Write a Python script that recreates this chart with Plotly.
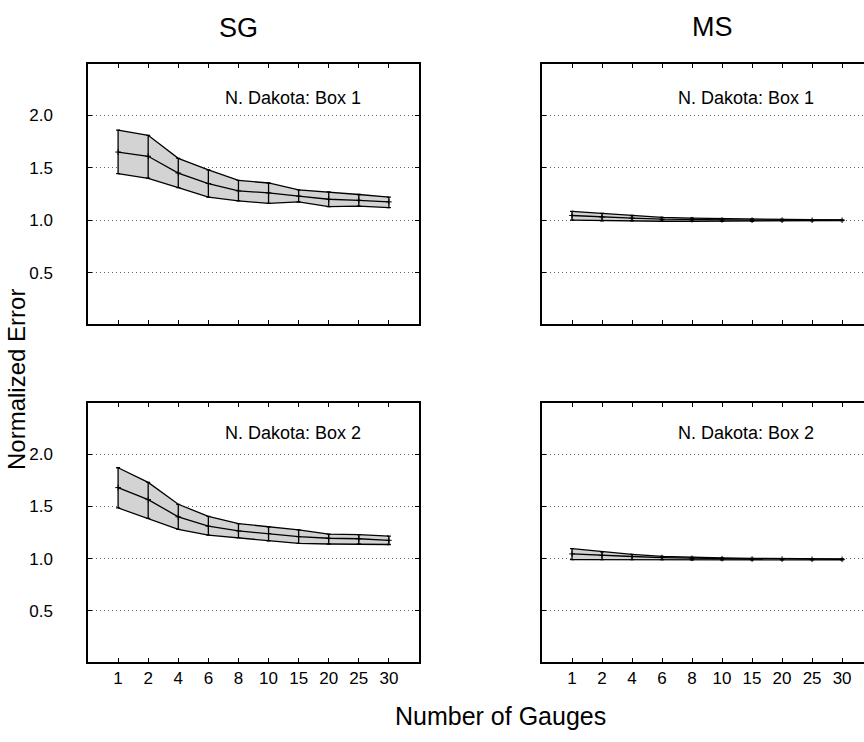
import plotly.graph_objects as go

gauges = ["1", "2", "4", "6", "8", "10", "15", "20", "25", "30"]

sg1_mean = [1.65, 1.61, 1.45, 1.35, 1.28, 1.26, 1.23, 1.20, 1.19, 1.175]
sg1_low = [1.445, 1.40, 1.31, 1.22, 1.185, 1.16, 1.175, 1.13, 1.135, 1.12]
sg1_high = [1.86, 1.81, 1.59, 1.48, 1.38, 1.355, 1.29, 1.27, 1.245, 1.22]

sg2_mean = [1.68, 1.565, 1.40, 1.31, 1.265, 1.24, 1.21, 1.195, 1.19, 1.175]
sg2_low = [1.485, 1.385, 1.28, 1.225, 1.20, 1.17, 1.145, 1.14, 1.14, 1.135]
sg2_high = [1.87, 1.73, 1.52, 1.405, 1.335, 1.305, 1.275, 1.235, 1.23, 1.215]

ms1_mean = [1.045, 1.03, 1.02, 1.01, 1.005, 1.003, 1.0, 1.0, 1.0, 1.0]
ms1_low = [1.0, 0.995, 0.995, 0.99, 0.99, 0.99, 0.99, 0.993, 0.995, 0.997]
ms1_high = [1.085, 1.065, 1.045, 1.027, 1.02, 1.015, 1.01, 1.008, 1.005, 1.003]

ms2_mean = [1.045, 1.03, 1.02, 1.01, 1.003, 1.0, 0.995, 0.995, 0.993, 0.993]
ms2_low = [0.99, 0.99, 0.99, 0.99, 0.988, 0.988, 0.988, 0.988, 0.988, 0.988]
ms2_high = [1.095, 1.064, 1.04, 1.022, 1.012, 1.006, 1.002, 1.0, 0.998, 0.997]

panels = [
    ("x", "y", sg1_mean, sg1_low, sg1_high, "N. Dakota: Box 1", 2.17),
    ("x2", "y2", ms1_mean, ms1_low, ms1_high, "N. Dakota: Box 1", 2.17),
    ("x3", "y3", sg2_mean, sg2_low, sg2_high, "N. Dakota: Box 2", 2.2),
    ("x4", "y4", ms2_mean, ms2_low, ms2_high, "N. Dakota: Box 2", 2.2),
]

xpos = list(range(1, len(gauges) + 1))
FONT = "Liberation Sans, Arial, sans-serif"

W, H = 864, 742
ML, MR, MT, MB = 88, 0, 64, 80
PW, PH = W - ML - MR, H - MT - MB


def px(xp):
    return (xp - ML) / PW


def py(yp):
    return (H - MB - yp) / PH


fig = go.Figure()
for xa, ya, mean, low, high, label, ly in panels:
    fig.add_trace(go.Scatter(x=xpos, y=low, xaxis=xa, yaxis=ya, mode="lines",
                             line=dict(color="black", width=1.3), showlegend=False,
                             hoverinfo="skip"))
    fig.add_trace(go.Scatter(x=xpos, y=high, xaxis=xa, yaxis=ya, mode="lines",
                             line=dict(color="black", width=1.3), fill="tonexty",
                             fillcolor="#d3d3d3", showlegend=False, hoverinfo="skip"))
    fig.add_trace(go.Scatter(
        x=xpos, y=mean, xaxis=xa, yaxis=ya, mode="lines+markers",
        line=dict(color="black", width=1.3),
        marker=dict(symbol="cross-thin", size=4, line=dict(color="black", width=1)),
        error_y=dict(type="data", symmetric=False,
                     array=[h - m for h, m in zip(high, mean)],
                     arrayminus=[m - l for m, l in zip(mean, low)],
                     color="black", thickness=1.3, width=2),
        showlegend=False))
    fig.add_annotation(x=6.8, y=ly, xref=xa, yref=ya, text=label,
                       xanchor="center", yanchor="middle",
                       showarrow=False, font=dict(family=FONT, size=18, color="black"))

common_x = dict(tickmode="array", tickvals=xpos, ticktext=gauges, ticks="inside",
                ticklen=4, tickcolor="black", showline=True, linecolor="black",
                linewidth=1.5, showgrid=False, zeroline=False,
                tickfont=dict(family=FONT, size=17, color="black"))
common_y = dict(tickmode="array", tickvals=[0.5, 1.0, 1.5, 2.0], tickformat=".1f",
                ticks="inside", ticklen=4, tickcolor="black", showline=True,
                linecolor="black", linewidth=1.5, showgrid=True, gridcolor="#666666",
                griddash="1px,3px", gridwidth=1, zeroline=False, range=[0.01, 2.49],
                ticklabelstandoff=30,
                tickfont=dict(family=FONT, size=17, color="black"))

L = [0.0, px(419)]
R = [px(542), 1.0]
TOP = [py(324), 1.0]
BOT = [0.0, py(403)]

fig.update_layout(
    width=W, height=H,
    margin=dict(l=ML, r=MR, t=MT, b=MB),
    paper_bgcolor="white", plot_bgcolor="white",
    xaxis=dict(domain=L, range=[0, 11], anchor="y", mirror="ticks", showticklabels=False, **common_x),
    yaxis=dict(domain=TOP, anchor="x", mirror="ticks", **common_y),
    xaxis2=dict(domain=R, range=[0, 10.73], anchor="y2", mirror="ticks", showticklabels=False, **common_x),
    yaxis2=dict(domain=TOP, anchor="x2", mirror=False, showticklabels=False, **common_y),
    xaxis3=dict(domain=L, range=[0, 11], anchor="y3", mirror="ticks", **common_x),
    yaxis3=dict(domain=BOT, anchor="x3", mirror="ticks", **common_y),
    xaxis4=dict(domain=R, range=[0, 10.73], anchor="y4", mirror="ticks", **common_x),
    yaxis4=dict(domain=BOT, anchor="x4", mirror=False, showticklabels=False, **common_y),
)

fig.add_annotation(x=px(238.5), y=py(28), xref="paper", yref="paper", text="SG",
                   xanchor="center", yanchor="middle", showarrow=False,
                   font=dict(family=FONT, size=27, color="black"))
fig.add_annotation(x=px(712), y=py(27), xref="paper", yref="paper", text="MS",
                   xanchor="center", yanchor="middle", showarrow=False,
                   font=dict(family=FONT, size=27, color="black"))
fig.add_annotation(x=px(16), y=py(380), xref="paper", yref="paper",
                   text="Normalized Error", textangle=-90, showarrow=False,
                   xanchor="center", yanchor="middle",
                   font=dict(family=FONT, size=24, color="black"))
fig.add_annotation(x=px(500), y=py(716), xref="paper", yref="paper",
                   text="Number of Gauges", showarrow=False,
                   xanchor="center", yanchor="middle",
                   font=dict(family=FONT, size=25, color="black"))

fig.write_html("out.html", config={"displayModeBar": False},
               post_script="document.body.style.margin='0';document.body.style.overflow='hidden';")
